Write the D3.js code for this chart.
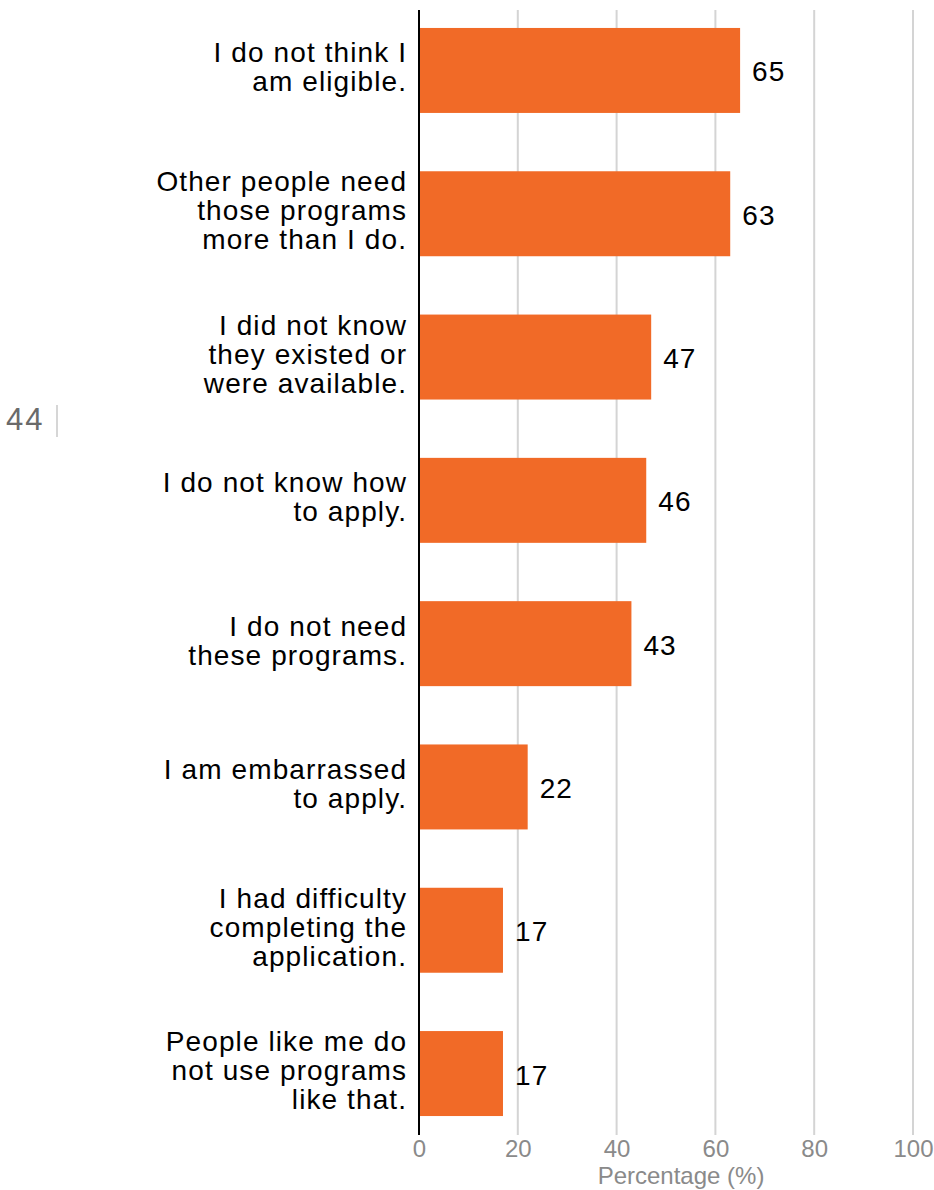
<!DOCTYPE html>
<html>
<head>
<meta charset="utf-8">
<script src="https://cdn.jsdelivr.net/npm/d3@7"></script>
<style>
  html, body { margin: 0; padding: 0; background: #fff; }
  svg { display: block; font-family: "Liberation Sans", Arial, Helvetica, sans-serif; }
</style>
</head>
<body>
<svg id="chart" width="934" height="1190"></svg>
<script>
// Reasons for not using assistance programs (% of respondents)
const categories = [
  ["I do not think I", "am eligible."],
  ["Other people need", "those programs", "more than I do."],
  ["I did not know", "they existed or", "were available."],
  ["I do not know how", "to apply."],
  ["I do not need", "these programs."],
  ["I am embarrassed", "to apply."],
  ["I had difficulty", "completing the", "application."],
  ["People like me do", "not use programs", "like that."]
];
const values = [65, 63, 47, 46, 43, 22, 17, 17];
const xTicks = [0, 20, 40, 60, 80, 100];
const axisTitle = "Percentage (%)";
const pageNumber = "44";

const svg = d3.select("#chart");
const plotLeft = 419, plotRight = 913;
const plotTop = 10, plotBottom = 1135;
const labelSize = 28;
const labelSpacing = 1.1;

const x = d3.scaleLinear().domain([0, 100]).range([plotLeft, plotRight]);
const y = d3.scaleBand()
  .domain(d3.range(categories.length))
  .range([-1.2, -1.2 + 143.3 * categories.length])
  .paddingInner(0.407)
  .paddingOuter(0.2035);

// vertical gridlines
svg.append("g").selectAll("line")
  .data(xTicks.filter(d => d > 0))
  .join("line")
  .attr("x1", d => x(d)).attr("x2", d => x(d))
  .attr("y1", plotTop).attr("y2", plotBottom)
  .attr("stroke", "#d4d4d4").attr("stroke-width", 2);

// bars
svg.append("g").selectAll("rect")
  .data(values)
  .join("rect")
  .attr("x", x(0))
  .attr("y", (d, i) => y(i))
  .attr("width", d => x(d) - x(0))
  .attr("height", y.bandwidth())
  .attr("fill", "#f16a27");

// value labels
svg.append("g").selectAll("text")
  .data(values)
  .join("text")
  .attr("x", d => x(d) + 12)
  .attr("y", (d, i) => y(i) + y.bandwidth() / 2 + 11)
  .attr("font-size", labelSize)
  .attr("letter-spacing", labelSpacing)
  .attr("fill", "#000")
  .text(d => d);

// zero baseline
svg.append("line")
  .attr("x1", x(0)).attr("x2", x(0))
  .attr("y1", plotTop).attr("y2", plotBottom)
  .attr("stroke", "#000").attr("stroke-width", 2);

// category labels
const lineH = 29;
const cat = svg.append("g").selectAll("text")
  .data(categories)
  .join("text")
  .attr("text-anchor", "end")
  .attr("font-size", labelSize)
  .attr("letter-spacing", labelSpacing)
  .attr("fill", "#000");
cat.each(function(lines, i) {
  const cy = y(i) + y.bandwidth() / 2;
  const start = cy - (lines.length - 1) * lineH / 2 + 6.5;
  d3.select(this).selectAll("tspan")
    .data(lines)
    .join("tspan")
    .attr("x", 406 + labelSpacing)
    .attr("y", (d, j) => start + j * lineH)
    .text(d => d);
});

// x axis tick labels
const xAxis = d3.axisBottom(x).tickValues(xTicks).tickSize(0).tickPadding(0);
const gx = svg.append("g")
  .attr("transform", `translate(0, ${plotBottom})`)
  .call(xAxis);
gx.select(".domain").remove();
gx.selectAll("text")
  .attr("font-family", "Liberation Sans, Arial, sans-serif")
  .attr("font-size", 24)
  .attr("dy", null)
  .attr("y", 22)
  .attr("fill", "#8a8a8a");

// axis title
svg.append("text")
  .attr("x", 681).attr("y", 1184)
  .attr("text-anchor", "middle")
  .attr("font-size", 24)
  .attr("fill", "#8a8a8a")
  .text(axisTitle);

// page number
svg.append("text")
  .attr("x", 6).attr("y", 430)
  .attr("font-size", 31)
  .attr("letter-spacing", 2)
  .attr("fill", "#6a6a6a")
  .text(pageNumber);
svg.append("line")
  .attr("x1", 57).attr("x2", 57)
  .attr("y1", 405).attr("y2", 437)
  .attr("stroke", "#c8c8c8").attr("stroke-width", 1.5);
</script>
</body>
</html>
